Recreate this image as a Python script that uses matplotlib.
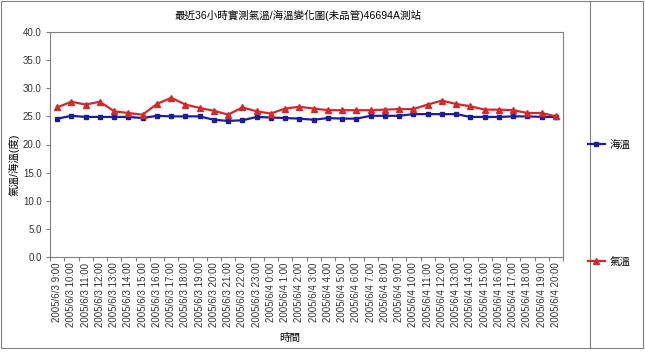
import matplotlib
matplotlib.use("Agg")
import matplotlib.pyplot as plt
from matplotlib.lines import Line2D
from matplotlib.patches import Rectangle

plt.rcParams['font.family'] = ['Liberation Sans', 'Noto Sans CJK TC', 'DejaVu Sans']

title = "最近36小時實測氣溫/海溫變化圖(未品管)46694A測站"
times = ["2005/6/3 9:00", "2005/6/3 10:00", "2005/6/3 11:00", "2005/6/3 12:00",
         "2005/6/3 13:00", "2005/6/3 14:00", "2005/6/3 15:00", "2005/6/3 16:00",
         "2005/6/3 17:00", "2005/6/3 18:00", "2005/6/3 19:00", "2005/6/3 20:00",
         "2005/6/3 21:00", "2005/6/3 22:00", "2005/6/3 23:00", "2005/6/4 0:00",
         "2005/6/4 1:00", "2005/6/4 2:00", "2005/6/4 3:00", "2005/6/4 4:00",
         "2005/6/4 5:00", "2005/6/4 6:00", "2005/6/4 7:00", "2005/6/4 8:00",
         "2005/6/4 9:00", "2005/6/4 10:00", "2005/6/4 11:00", "2005/6/4 12:00",
         "2005/6/4 13:00", "2005/6/4 14:00", "2005/6/4 15:00", "2005/6/4 16:00",
         "2005/6/4 17:00", "2005/6/4 18:00", "2005/6/4 19:00", "2005/6/4 20:00"]
sea_temp = [24.6, 25.1, 24.9, 24.9, 24.9, 24.9, 24.7, 25.1, 25.0, 25.0,
            25.0, 24.4, 24.2, 24.3, 24.9, 24.8, 24.7, 24.6, 24.4, 24.7,
            24.6, 24.6, 25.1, 25.1, 25.1, 25.4, 25.4, 25.4, 25.4, 24.9,
            24.9, 24.9, 25.0, 25.0, 24.9, 24.9]
air_temp = [26.6, 27.6, 27.1, 27.6, 25.9, 25.6, 25.3, 27.2, 28.3, 27.1,
            26.5, 26.0, 25.3, 26.6, 25.9, 25.5, 26.4, 26.7, 26.4, 26.1,
            26.1, 26.1, 26.1, 26.2, 26.3, 26.3, 27.1, 27.8, 27.2, 26.8,
            26.2, 26.2, 26.1, 25.6, 25.6, 25.0]
series_names = ["海溫", "氣溫"]
yticks = [0, 5, 10, 15, 20, 25, 30, 35, 40]

W, H = 645, 354
fig = plt.figure(figsize=(W / 100, H / 100), dpi=100)

def fx(px):
    return px / W

def fy(py):
    return 1 - py / H

ax = fig.add_axes([fx(50), fy(257), fx(563) - fx(50), fy(32) - fy(257)])

x = list(range(len(times)))
blue = "#1c1c9c"
red = "#d02a2a"
l1, = ax.plot(x, sea_temp, color=blue, lw=1.6, marker="s", ms=3.2,
              markerfacecolor=blue, markeredgecolor=blue)
l2, = ax.plot(x, air_temp, color=red, lw=1.6, marker="^", ms=4.0,
              markerfacecolor=red, markeredgecolor=red)

ax.set_xlim(-0.5, len(times) - 0.5)
ax.set_ylim(0, 40)
ax.set_yticks(yticks)
ax.set_yticklabels([f"{v:.1f}" for v in yticks], fontsize=7, color="#333333")
ax.set_xticks(x)
ax.set_xticklabels(times, rotation=90, fontsize=7, color="#333333")
ax.tick_params(axis="x", length=0, pad=4)
ax.set_xticks([i - 0.5 for i in range(len(times) + 1)], minor=True)
ax.tick_params(axis="x", which="minor", length=3, color="#808080", width=0.8)
ax.tick_params(axis="y", length=3, color="#808080", width=0.8, pad=3)
for s in ax.spines.values():
    s.set_color("#808080")
    s.set_linewidth(0.8)

fig.text(fx(298), fy(15), title, ha="center", va="center", fontsize=7.6)
fig.text(fx(14), fy(165), "氣溫/海溫(度)", rotation=90, ha="center", va="center", fontsize=7.6)
fig.text(fx(290), fy(338), "時間", ha="center", va="center", fontsize=7.6)

# outer border and legend box
fig.add_artist(Rectangle((fx(1), fy(348)), fx(642), fy(1) - fy(348), transform=fig.transFigure,
                         fill=False, edgecolor="#808080", lw=0.8))
fig.add_artist(Line2D([fx(590), fx(590)], [fy(348), fy(1)], transform=fig.transFigure,
                      color="#808080", lw=0.8))

leg = fig.legend([l1, l2], series_names, loc="upper left",
                 bbox_to_anchor=(fx(588), fy(140)), frameon=False, fontsize=7.6,
                 handlelength=1.6, handletextpad=0.4, labelspacing=10.1,
                 borderaxespad=0, borderpad=0)

fig.savefig("out.png", dpi=100)
